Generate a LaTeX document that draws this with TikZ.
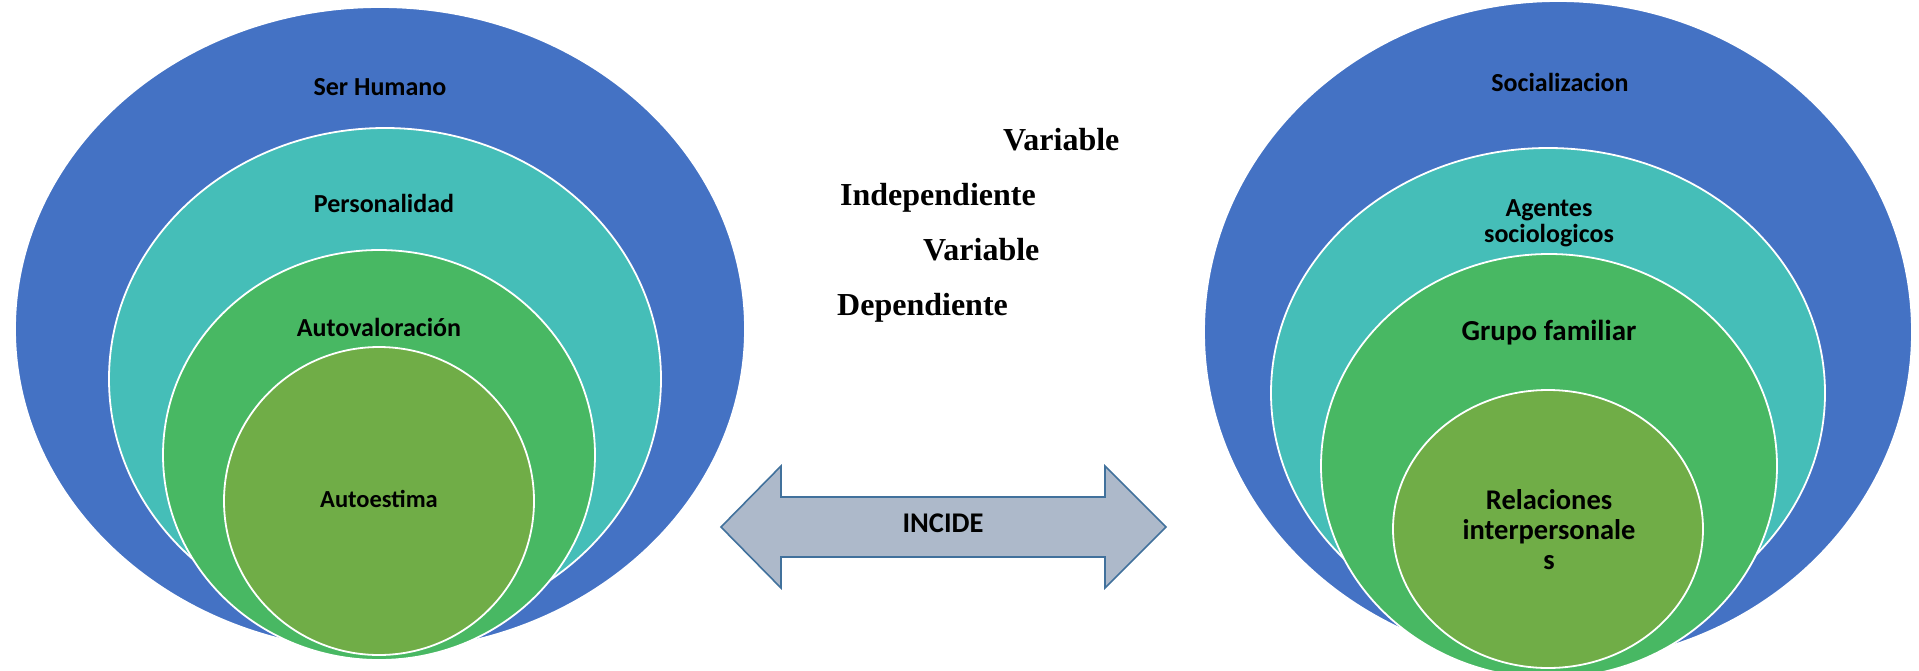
\documentclass[tikz,border=0pt]{standalone}
\usepackage{fontspec}
\newfontfamily\labelfont{Carlito}
\newfontfamily\varfont{Liberation Serif}
\definecolor{ringblue}{RGB}{68,114,196}
\definecolor{ringteal}{RGB}{69,190,184}
\definecolor{ringgreen}{RGB}{72,184,99}
\definecolor{ringolive}{RGB}{112,173,71}
\definecolor{arrowfill}{RGB}{173,185,202}
\definecolor{arrowline}{RGB}{65,113,156}
\begin{document}
\begin{tikzpicture}[x=1pt,y=-1pt,
  ring/.style={draw=white,line width=1.8pt},
  lbl/.style={font=\labelfont\bfseries\fontsize{26}{26}\selectfont,anchor=base,inner sep=0pt,text=black},
  varlbl/.style={font=\varfont\bfseries\fontsize{32}{32}\selectfont,anchor=base west,inner sep=0pt,text=black}]
\useasboundingbox (0,0) rectangle (1919,670);

% left set of nested ellipses
\path[ring,fill=ringblue]  (380,329) ellipse [x radius=365pt,y radius=322pt];
\path[ring,fill=ringteal]  (385,379) ellipse [x radius=276pt,y radius=251pt];
\path[ring,fill=ringgreen] (379,455) ellipse [x radius=216pt,y radius=205pt];
\path[ring,fill=ringolive] (379,501) ellipse [x radius=155pt,y radius=154pt];
\node[lbl] (serhumano) at (380,95) {Ser Humano};
\node[lbl] (personalidad) at (384,212) {Personalidad};
\node[lbl] (autovaloracion) at (379,336) {Autovaloración};
\node[lbl,font=\labelfont\bfseries\fontsize{24.5}{24.5}\selectfont] (autoestima) at (379,507) {Autoestima};

% right set of nested ellipses
\path[ring,fill=ringblue]  (1558,332) ellipse [x radius=354pt,y radius=331pt];
\path[ring,fill=ringteal]  (1548,393) ellipse [x radius=277pt,y radius=245pt];
\path[ring,fill=ringgreen] (1549,466) ellipse [x radius=228pt,y radius=212pt];
\path[ring,fill=ringolive] (1548,529) ellipse [x radius=155pt,y radius=139pt];
\node[lbl] (socializacion) at (1560,91) {Socializacion};
\node[lbl,anchor=center,align=center,font=\labelfont\bfseries\fontsize{26}{26}\selectfont] (agentes) at (1549,223) {Agentes\\sociologicos};
\node[lbl,font=\labelfont\bfseries\fontsize{29}{29}\selectfont] (grupo) at (1549,340) {Grupo familiar};
\node[lbl,anchor=center,align=center,font=\labelfont\bfseries\fontsize{28.5}{30}\selectfont] (relaciones) at (1549,530) {Relaciones\\interpersonale\\s};

% variable captions
\node[varlbl] (var1) at (1003,150) {Variable};
\node[varlbl] (indep) at (840,205) {Independiente};
\node[varlbl] (var2) at (923,260) {Variable};
\node[varlbl] (dep) at (837,315) {Dependiente};

% double-headed arrow between the two sets
\coordinate (tipL) at (721,527);
\coordinate (tipR) at (1166,527);
\draw[fill=arrowfill,draw=arrowline,line width=1.6pt,line join=miter]
  (tipL) -- (781,466) -- (781,497) -- (1105,497) -- (1105,466) -- (tipR)
  -- (1105,588) -- (1105,557) -- (781,557) -- (781,588) -- cycle;
\node[lbl,font=\labelfont\bfseries\fontsize{28.5}{28.5}\selectfont] (incide) at (943,532) {INCIDE};
\end{tikzpicture}
\end{document}
